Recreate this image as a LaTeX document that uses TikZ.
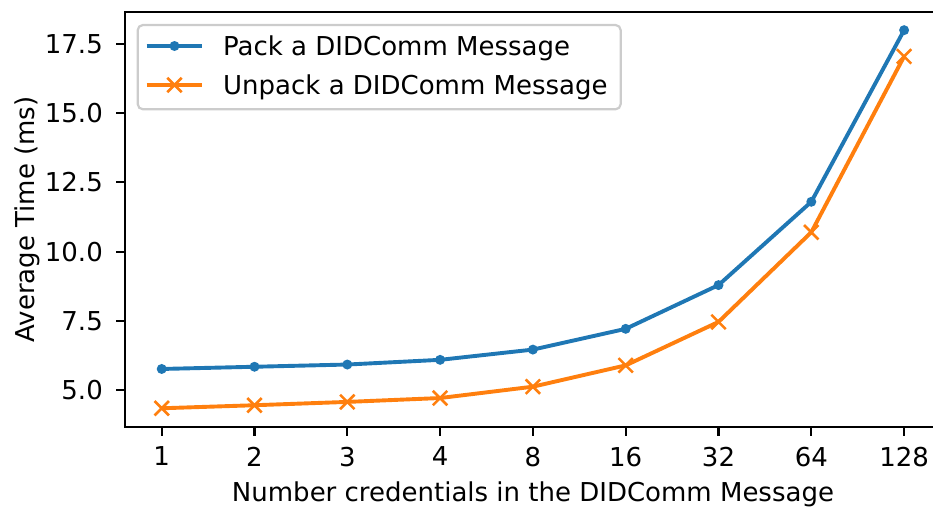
\documentclass[tikz,border=0pt]{standalone}
\usepackage{fontspec}
\setmainfont{DejaVu Sans}
\usetikzlibrary{calc}
\definecolor{mplblue}{HTML}{1F77B4}
\definecolor{mplorange}{HTML}{FF7F0E}
\definecolor{legendedge}{HTML}{CCCCCC}
\begin{document}
\begin{tikzpicture}[x=1pt,y=-1pt,
  font=\fontsize{26}{31}\selectfont,
  declare function={gx(\i)=161.7+92.8*\i; gy(\v)=390-27.68*(\v-5);},
  spine/.style={line width=2.08pt, black},
  tickmark/.style={line width=2.08pt, black},
  ticklabel/.style={inner sep=0pt},
  series/.style={line width=3.9pt, line join=round},
  dotmark/.style={fill=mplblue, draw=none},
  crossmark/.style={draw=mplorange, line width=2.6pt},
  legendbox/.style={draw=legendedge, fill=white, fill opacity=0.8, draw opacity=1, line width=2.2pt, rounded corners=5.2pt},
  legendtext/.style={inner sep=0pt, anchor=base west}]
\useasboundingbox (0,0) rectangle (933,506);
\begin{scope}
\clip (0,0) rectangle (933,506);

% axes frame (the right edge lies past the page border)
\draw[spine] (124.6,12) rectangle (941,427);

% x ticks
\foreach \lab [count=\k from 0] in {1,2,3,4,8,16,32,64,128} {
  \coordinate (xt\k) at ({gx(\k)},427);
  \draw[tickmark] (xt\k) -- ++(0,9.1);
  \node[ticklabel, anchor=north] (xl\k) at ({gx(\k)},446.7) {\lab};
}
% y ticks
\foreach \v [count=\k from 0] in {5.0,7.5,10.0,12.5,15.0,17.5} {
  \coordinate (yt\k) at (124.6,{gy(\v)});
  \draw[tickmark] (yt\k) -- ++(-9.1,0);
  \node[ticklabel, anchor=east] (yl\k) at (103,{gy(\v)}) {\v};
}

% axis titles
\node[ticklabel, anchor=base] (xtitle) at (533,501) {Number credentials in the DIDComm Message};
\node[ticklabel, anchor=base, rotate=90] (ytitle) at (34,219.5) {Average Time (ms)};

% pack series
\foreach \v [count=\k from 0] in {5.76,5.84,5.92,6.09,6.46,7.21,8.79,11.80,18.0}
  \coordinate (p\k) at ({gx(\k)},{gy(\v)});
% unpack series
\foreach \v [count=\k from 0] in {4.34,4.45,4.57,4.71,5.12,5.89,7.46,10.70,17.05}
  \coordinate (u\k) at ({gx(\k)},{gy(\v)});

\draw[series, mplblue] (p0) -- (p1) -- (p2) -- (p3) -- (p4) -- (p5) -- (p6) -- (p7) -- (p8);
\foreach \k in {0,...,8} \fill[dotmark] (p\k) circle (5pt);

\draw[series, mplorange] (u0) -- (u1) -- (u2) -- (u3) -- (u4) -- (u5) -- (u6) -- (u7) -- (u8);
\foreach \k in {0,...,8}
  \draw[crossmark] ([shift={(-7.2,-7.2)}]u\k) -- ([shift={(7.2,7.2)}]u\k)
                   ([shift={(-7.2,7.2)}]u\k) -- ([shift={(7.2,-7.2)}]u\k);

% legend
\draw[legendbox] (137.7,25) rectangle (620.7,109.3);
\coordinate (la) at (146.7,46);
\coordinate (lb) at (202.3,46);
\coordinate (lc) at (146.7,85);
\coordinate (ld) at (202.3,85);
\draw[series, mplblue] (la) -- (lb);
\fill[dotmark] ($(la)!0.5!(lb)$) circle (5pt);
\draw[series, mplorange] (lc) -- (ld);
\coordinate (lm) at (174.5,85);
\draw[crossmark] ([shift={(-7.2,-7.2)}]lm) -- ([shift={(7.2,7.2)}]lm)
                 ([shift={(-7.2,7.2)}]lm) -- ([shift={(7.2,-7.2)}]lm);
\node[legendtext] (lt1) at (223,55) {Pack a DIDComm Message};
\node[legendtext] (lt2) at (223,94.3) {Unpack a DIDComm Message};
\end{scope}
\end{tikzpicture}
\end{document}
